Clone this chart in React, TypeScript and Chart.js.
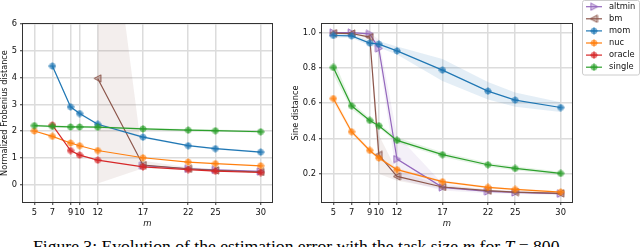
import React, { useEffect, useRef } from "react";
import { Chart, registerables } from "chart.js";

Chart.register(...registerables);

// ---------- data ----------
const mValues = [5, 7, 9, 10, 12, 17, 22, 25, 30];
const frobTicks = [0, 1, 2, 3, 4, 5, 6];
const sineTicks = [0.2, 0.4, 0.6, 0.8, 1.0];

const seriesNames = ["altmin", "bm", "mom", "nuc", "oracle", "single"];
const seriesColors = ["#9467bd", "#8c564b", "#1f77b4", "#ff7f0e", "#d62728", "#2ca02c"];
const seriesMarkers = ["right", "left", "circle", "circle", "circle", "circle"];

// Left panel: normalized Frobenius distance
const frobAltmin = [null, null, null, null, null, 0.72, 0.6, 0.56, 0.5];
const frobBm = [null, null, null, null, 3.97, 0.74, 0.6, 0.54, 0.48];
const frobMom = [null, 4.43, 2.91, 2.66, 2.26, 1.78, 1.46, 1.35, 1.22];
const frobNuc = [2.01, 1.81, 1.56, 1.46, 1.28, 1.01, 0.85, 0.79, 0.71];
const frobOracle = [null, 2.23, 1.28, 1.11, 0.92, 0.67, 0.57, 0.51, 0.46];
const frobSingle = [2.21, 2.18, 2.16, 2.16, 2.15, 2.09, 2.04, 2.02, 1.98];

const frobBmLow = [null, null, null, null, 0.05, 0.62, 0.55, 0.5, 0.45];
const frobBmHigh = [null, null, null, null, 14.0, 0.9, 0.66, 0.6, 0.52];
const frobMomLow = [null, 4.38, 2.87, 2.62, 2.22, 1.74, 1.43, 1.32, 1.19];
const frobMomHigh = [null, 4.48, 2.95, 2.7, 2.3, 1.82, 1.49, 1.38, 1.25];
const frobSingleLow = [2.17, 2.14, 2.12, 2.12, 2.11, 2.05, 2.0, 1.98, 1.94];
const frobSingleHigh = [2.25, 2.22, 2.2, 2.2, 2.19, 2.13, 2.08, 2.06, 2.02];

// Right panel: sine distance
const sineAltmin = [0.999, 0.999, 0.992, 0.91, 0.283, 0.123, 0.1, 0.094, 0.087];
const sineBm = [0.996, 0.994, 0.974, 0.307, 0.185, 0.125, 0.104, 0.096, 0.089];
const sineMom = [0.983, 0.981, 0.94, 0.934, 0.896, 0.787, 0.668, 0.617, 0.575];
const sineNuc = [0.626, 0.438, 0.332, 0.289, 0.223, 0.155, 0.123, 0.111, 0.096];
const sineOracle = [null, null, null, null, null, null, null, null, null];
const sineSingle = [0.802, 0.585, 0.502, 0.472, 0.389, 0.308, 0.251, 0.23, 0.202];

const sineMomLow = [0.972, 0.97, 0.925, 0.915, 0.875, 0.725, 0.62, 0.58, 0.55];
const sineMomHigh = [0.994, 0.992, 0.955, 0.952, 0.92, 0.85, 0.72, 0.66, 0.605];
const sineSingleLow = [0.76, 0.565, 0.49, 0.46, 0.375, 0.295, 0.24, 0.22, 0.192];
const sineSingleHigh = [0.85, 0.605, 0.515, 0.485, 0.405, 0.322, 0.262, 0.242, 0.212];
const sineNucLow = [0.605, 0.425, 0.322, 0.28, 0.215, 0.148, 0.117, 0.106, 0.091];
const sineNucHigh = [0.648, 0.452, 0.343, 0.298, 0.232, 0.162, 0.129, 0.117, 0.101];
const sineAltminLow = [0.995, 0.995, 0.985, 0.86, 0.17, 0.105, 0.09, 0.086, 0.08];
const sineAltminHigh = [1.0, 1.0, 0.998, 0.96, 0.42, 0.145, 0.11, 0.102, 0.094];
const sineBmLow = [0.99, 0.99, 0.96, 0.2, 0.16, 0.115, 0.097, 0.09, 0.083];
const sineBmHigh = [1.0, 1.0, 0.99, 0.42, 0.215, 0.135, 0.111, 0.102, 0.095];

// ---------- helpers ----------
const FONT = "DejaVu Sans";
const TICK_FONT = { family: FONT, size: 8.3 };
const TEXT_COLOR = "#111111";
const GRID_COLOR = "#dcdcdc";

function hexToRgba(hex: string, a: number) {
  const n = parseInt(hex.slice(1), 16);
  return `rgba(${(n >> 16) & 255},${(n >> 8) & 255},${n & 255},${a})`;
}

function makeMarker(color: string, kind: string): HTMLCanvasElement {
  const c = document.createElement("canvas");
  const s = kind === "circle" ? 8 : 9;
  c.width = s;
  c.height = s;
  const g = c.getContext("2d")!;
  const cx = s / 2;
  const cy = s / 2;
  if (kind === "circle") {
    g.globalAlpha = 0.6;
    g.fillStyle = color;
    g.beginPath();
    g.arc(cx, cy, 3.3, 0, Math.PI * 2);
    g.fill();
    g.globalAlpha = 1;
    g.strokeStyle = color;
    g.lineWidth = 1.1;
    g.beginPath();
    g.moveTo(cx, cy - 3.6);
    g.lineTo(cx, cy + 3.6);
    g.moveTo(cx - 3.6, cy);
    g.lineTo(cx + 3.6, cy);
    g.stroke();
  } else {
    const dir = kind === "right" ? 1 : -1;
    g.beginPath();
    g.moveTo(cx - dir * 3.3, cy - 3.6);
    g.lineTo(cx + dir * 3.6, cy);
    g.lineTo(cx - dir * 3.3, cy + 3.6);
    g.closePath();
    g.globalAlpha = 0.35;
    g.fillStyle = color;
    g.fill();
    g.globalAlpha = 1;
    g.strokeStyle = color;
    g.lineWidth = 1;
    g.stroke();
  }
  return c;
}

function toPoints(vals: (number | null)[]) {
  return mValues.map((m, j) => ({ x: m, y: vals[j] }));
}

function lineDatasets(series: (number | null)[][], markers: HTMLCanvasElement[]) {
  return series.map((vals, i) => ({
    label: seriesNames[i],
    data: toPoints(vals),
    borderColor: seriesColors[i],
    backgroundColor: seriesColors[i],
    borderWidth: 1.2,
    pointStyle: markers[i],
    pointRadius: 3,
    pointHoverRadius: 3,
    fill: false,
    order: 6 - i,
    spanGaps: false,
  }));
}

function bandDatasets(
  startIndex: number,
  bands: { color: string; low: (number | null)[]; high: (number | null)[]; alpha: number }[]
) {
  const out: any[] = [];
  bands.forEach((b, k) => {
    const lowIdx = startIndex + k * 2;
    out.push({
      label: "_band_low",
      data: toPoints(b.low),
      borderColor: "transparent",
      borderWidth: 0,
      pointRadius: 0,
      fill: false,
      order: 20,
    });
    out.push({
      label: "_band_high",
      data: toPoints(b.high),
      borderColor: "transparent",
      borderWidth: 0,
      pointRadius: 0,
      fill: lowIdx,
      backgroundColor: hexToRgba(b.color, b.alpha),
      order: 20,
    });
  });
  return out;
}

const framePlugin = {
  id: "frame",
  afterDatasetsDraw(chart: any) {
    const { ctx, chartArea } = chart;
    ctx.save();
    ctx.strokeStyle = "#333333";
    ctx.lineWidth = 1;
    const l = Math.round(chartArea.left) - 0.5;
    const t = Math.round(chartArea.top) - 0.5;
    const r = Math.round(chartArea.right) + 0.5;
    const b = Math.round(chartArea.bottom) + 0.5;
    ctx.strokeRect(l, t, r - l, b - t);
    ctx.restore();
  },
};

function makeOptions(opts: {
  yMin: number;
  yMax: number;
  yTicks: number[];
  yFormat: (v: number) => string;
  yTitle: string;
  yWidth: number;
  yTitlePad: number;
  padRight: number;
}) {
  return {
    animation: false,
    responsive: false,
    devicePixelRatio: 1,
    events: [],
    layout: { padding: { left: 0, top: 24, right: opts.padRight, bottom: 0 } },
    plugins: {
      legend: { display: false },
      tooltip: { enabled: false },
      filler: { propagate: false, drawTime: "beforeDatasetsDraw" },
    },
    scales: {
      x: {
        type: "linear",
        min: 3.75,
        max: 31.25,
        afterBuildTicks: (s: any) => {
          s.ticks = mValues.map((v) => ({ value: v }));
        },
        afterFit: (s: any) => {
          s.height = 30;
        },
        ticks: {
          font: TICK_FONT,
          color: TEXT_COLOR,
          padding: 3,
          autoSkip: false,
          maxRotation: 0,
          minRotation: 0,
          callback: (v: any) => String(v),
        },
        grid: {
          color: GRID_COLOR,
          lineWidth: 1.5,
          tickColor: "#333333",
          tickLength: 3,
          tickWidth: 1,
        },
        border: { display: false },
        title: {
          display: true,
          text: "m",
          color: TEXT_COLOR,
          font: { family: FONT, size: 8.5, style: "italic" },
          padding: { top: 0, bottom: 3 },
        },
      },
      y: {
        type: "linear",
        min: opts.yMin,
        max: opts.yMax,
        afterBuildTicks: (s: any) => {
          s.ticks = opts.yTicks.map((v) => ({ value: v }));
        },
        afterFit: (s: any) => {
          s.width = opts.yWidth;
        },
        ticks: {
          font: TICK_FONT,
          color: TEXT_COLOR,
          padding: 3,
          autoSkip: false,
          callback: (v: any) => opts.yFormat(Number(v)),
        },
        grid: {
          color: GRID_COLOR,
          lineWidth: 1.5,
          tickColor: "#333333",
          tickLength: 3,
          tickWidth: 1,
        },
        border: { display: false },
        title: {
          display: true,
          text: opts.yTitle,
          color: TEXT_COLOR,
          font: { family: FONT, size: 8.2 },
          padding: { top: opts.yTitlePad, bottom: 0 },
        },
      },
    },
  };
}

export default function App() {
  const leftRef = useRef<HTMLCanvasElement | null>(null);
  const rightRef = useRef<HTMLCanvasElement | null>(null);

  useEffect(() => {
    const markers = seriesColors.map((c, i) => makeMarker(c, seriesMarkers[i]));

    const leftSeries = [frobAltmin, frobBm, frobMom, frobNuc, frobOracle, frobSingle];
    const leftData = [
      ...lineDatasets(leftSeries, markers),
      ...bandDatasets(6, [
        { color: seriesColors[1], low: frobBmLow, high: frobBmHigh, alpha: 0.1 },
        { color: seriesColors[2], low: frobMomLow, high: frobMomHigh, alpha: 0.12 },
        { color: seriesColors[5], low: frobSingleLow, high: frobSingleHigh, alpha: 0.12 },
      ]),
    ];

    const rightSeries = [sineAltmin, sineBm, sineMom, sineNuc, sineOracle, sineSingle];
    const rightData = [
      ...lineDatasets(rightSeries, markers),
      ...bandDatasets(6, [
        { color: seriesColors[0], low: sineAltminLow, high: sineAltminHigh, alpha: 0.1 },
        { color: seriesColors[1], low: sineBmLow, high: sineBmHigh, alpha: 0.1 },
        { color: seriesColors[2], low: sineMomLow, high: sineMomHigh, alpha: 0.12 },
        { color: seriesColors[3], low: sineNucLow, high: sineNucHigh, alpha: 0.12 },
        { color: seriesColors[5], low: sineSingleLow, high: sineSingleHigh, alpha: 0.12 },
      ]),
    ];

    const legendPlugin = {
      id: "customLegend",
      afterDraw(chart: any) {
        const ctx = chart.ctx;
        ctx.save();
        ctx.fillStyle = "rgba(255,255,255,0.8)";
        ctx.strokeStyle = "#cccccc";
        ctx.lineWidth = 1;
        ctx.beginPath();
        if ((ctx as any).roundRect) (ctx as any).roundRect(292.5, 0.5, 57, 74.5, 2);
        else ctx.rect(292.5, 0.5, 57, 74.5);
        ctx.fill();
        ctx.stroke();
        seriesNames.forEach((name, i) => {
          const y = 6.7 + i * 12.1;
          ctx.strokeStyle = seriesColors[i];
          ctx.lineWidth = 1.2;
          ctx.beginPath();
          ctx.moveTo(296, y);
          ctx.lineTo(312, y);
          ctx.stroke();
          const img = markers[i];
          ctx.drawImage(img, 304 - img.width / 2, y - img.height / 2);
          ctx.fillStyle = TEXT_COLOR;
          ctx.font = `8.3px "${FONT}"`;
          ctx.textBaseline = "middle";
          ctx.textAlign = "left";
          ctx.fillText(name, 319, y);
        });
        ctx.restore();
      },
    };

    const left = new Chart(leftRef.current!, {
      type: "line",
      data: { datasets: leftData as any },
      options: makeOptions({
        yMin: -0.64,
        yMax: 6,
        yTicks: frobTicks,
        yFormat: (v) => String(v),
        yTitle: "Normalized Frobenius distance",
        yWidth: 23,
        yTitlePad: 0,
        padRight: 18,
      }) as any,
      plugins: [framePlugin],
    });

    const right = new Chart(rightRef.current!, {
      type: "line",
      data: { datasets: rightData as any },
      options: makeOptions({
        yMin: 0.04,
        yMax: 1.048,
        yTicks: sineTicks,
        yFormat: (v) => v.toFixed(1),
        yTitle: "Sine distance",
        yWidth: 32,
        yTitlePad: 1,
        padRight: 68,
      }) as any,
      plugins: [framePlugin, legendPlugin],
    });

    return () => {
      left.destroy();
      right.destroy();
    };
  }, []);

  return (
    <div
      style={{
        position: "absolute",
        left: 0,
        top: 0,
        width: 640,
        height: 247,
        overflow: "hidden",
        background: "#ffffff",
      }}
    >
      <canvas
        ref={leftRef}
        width={290}
        height={232}
        style={{ position: "absolute", left: 0, top: 0, width: 290, height: 232 }}
      />
      <canvas
        ref={rightRef}
        width={350}
        height={232}
        style={{ position: "absolute", left: 290, top: 0, width: 350, height: 232 }}
      />
      <div
        style={{
          position: "absolute",
          left: 33,
          top: 238,
          fontFamily: "'Liberation Serif', 'Times New Roman', serif",
          fontSize: "17.6px",
          lineHeight: "17.6px",
          whiteSpace: "nowrap",
          color: "#000",
        }}
      >
        Figure 3: Evolution of the estimation error with the task size <i>m</i> for <i>T</i> = 800
      </div>
    </div>
  );
}
